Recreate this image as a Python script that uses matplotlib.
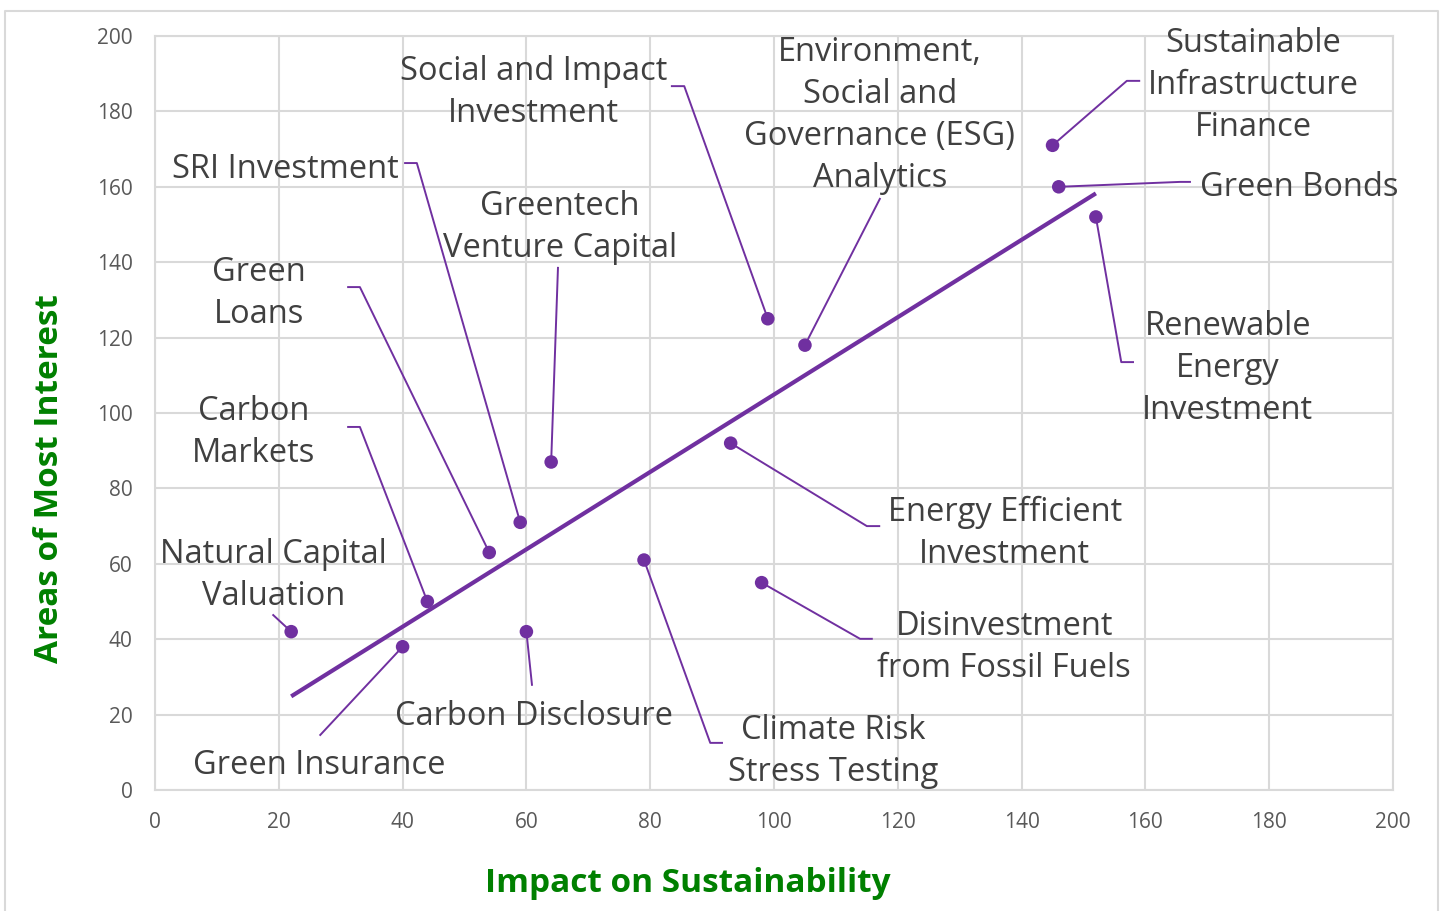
import matplotlib
matplotlib.use("Agg")
import matplotlib.pyplot as plt
import numpy as np
from matplotlib.lines import Line2D

# ---- data ----
names = ["Natural Capital\nValuation", "Green Insurance", "Carbon\nMarkets", "Green\nLoans",
         "SRI Investment", "Greentech\nVenture Capital", "Carbon Disclosure",
         "Climate Risk\nStress Testing", "Energy Efficient\nInvestment",
         "Disinvestment\nfrom Fossil Fuels", "Social and Impact\nInvestment",
         "Environment,\nSocial and\nGovernance (ESG)\nAnalytics",
         "Sustainable\nInfrastructure\nFinance", "Green Bonds",
         "Renewable\nEnergy\nInvestment"]
impact = [22, 40, 44, 54, 59, 64, 60, 79, 93, 98, 99, 105, 145, 146, 152]
interest = [42, 38, 50, 63, 71, 87, 42, 61, 92, 55, 125, 118, 171, 160, 152]
x_ticks = [0, 20, 40, 60, 80, 100, 120, 140, 160, 180, 200]
y_ticks = [0, 20, 40, 60, 80, 100, 120, 140, 160, 180, 200]

# ---- layout: (label position, ha, leader path points after the marker) ----
layout = [
    ((19.2, 57.6), "center", [(19.1, 46.4)]),
    ((26.5, 7.2), "center", [(26.7, 14.6)]),
    ((16.0, 95.5), "center", [(33.1, 96.3), (31.2, 96.3)]),
    ((16.8, 132.6), "center", [(33.1, 133.4), (31.2, 133.4)]),
    ((21.0, 165.5), "center", [(42.3, 166.3), (40.4, 166.3)]),
    ((65.4, 150.1), "center", [(65.1, 138.5)]),
    ((61.2, 20.4), "center", [(60.9, 27.9)]),
    ((109.5, 10.9), "center", [(89.7, 12.5), (91.6, 12.5)]),
    ((137.3, 69.0), "center", [(115.0, 70.0), (117.0, 70.0)]),
    ((137.2, 38.5), "center", [(113.9, 40.1), (115.8, 40.1)]),
    ((61.1, 185.9), "center", [(85.5, 186.7), (83.5, 186.7)]),
    ((117.1, 179.8), "center", [(117.1, 156.8)]),
    ((177.4, 187.8), "center", [(157.0, 188.1), (159.0, 188.1)]),
    ((168.8, 160.5), "left", [(165.6, 161.3), (167.2, 161.3)]),
    ((173.3, 112.7), "center", [(156.1, 113.5), (158.0, 113.5)]),
]

purple = "#7030A0"
W, H = 1444, 911
fig = plt.figure(figsize=(W / 100, H / 100), dpi=100)
ax = fig.add_axes([155 / W, 1 - 790 / H, (1393 - 155) / W, (790 - 36) / H])

# outer border
fig.add_artist(Line2D([5 / W, 5 / W, 1438 / W, 1438 / W], [0, 1 - 11 / H, 1 - 11 / H, 0],
                      transform=fig.transFigure, color="#d9d9d9", lw=1.5))

ax.set_xlim(0, 200)
ax.set_ylim(0, 200)
ax.set_xticks(x_ticks)
ax.set_yticks(y_ticks)
ax.grid(True, color="#d9d9d9", lw=1.5)
ax.set_axisbelow(True)
for s in ax.spines.values():
    s.set_color("#d9d9d9")
    s.set_linewidth(1.5)
ax.tick_params(length=0, labelsize=15, labelcolor="#595959")
ax.tick_params(axis="y", pad=16)
ax.tick_params(axis="x", pad=16)
for lab in ax.get_xticklabels() + ax.get_yticklabels():
    lab.set_fontfamily("Open Sans")

# trend line
coef = np.polyfit(impact, interest, 1)
xs = np.array([min(impact), max(impact)])
ax.plot(xs, np.polyval(coef, xs), color=purple, lw=3, solid_capstyle="butt", zorder=3)

# leaders
for (xp, yp), (pos, ha, path) in zip(zip(impact, interest), layout):
    pts = [(xp, yp)] + path
    ax.plot([p[0] for p in pts], [p[1] for p in pts], color=purple, lw=1.4, zorder=3,
            clip_on=False)

ax.scatter(impact, interest, s=95, color=purple, zorder=4, edgecolors="none")

for name, (pos, ha, path) in zip(names, layout):
    ax.text(pos[0], pos[1] - 0.8, name, ha=ha, va="center", fontsize=23.5, color="#404040",
            family="Open Sans", linespacing=1.36, multialignment="center", clip_on=False)

fig.text(688 / W, 1 - 884 / H, "Impact on Sustainability", ha="center", va="center",
         fontsize=24, fontweight="bold", color="#008000", family="Open Sans")
fig.text(50 / W, 1 - 479 / H, "Areas of Most Interest", ha="center", va="center",
         rotation=90, fontsize=24, fontweight="bold", color="#008000", family="Open Sans")

fig.savefig("out.png", dpi=100)
